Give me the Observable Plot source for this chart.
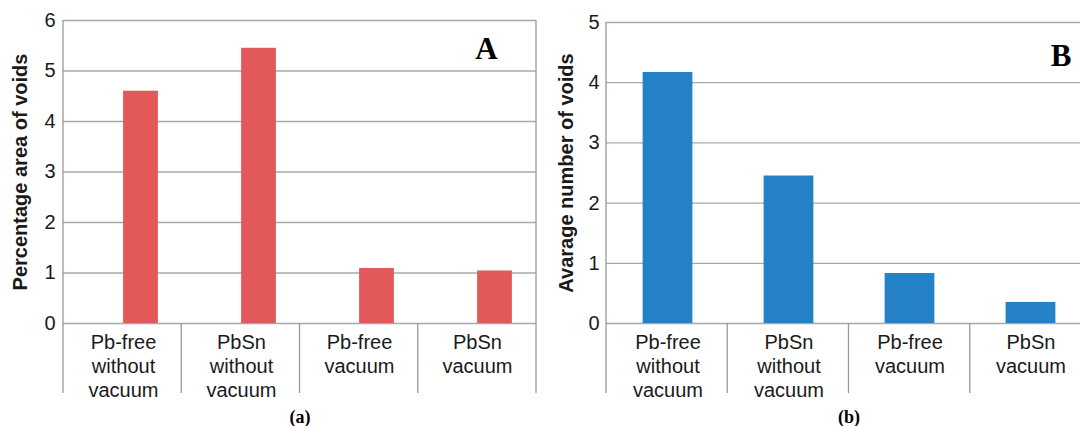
<!DOCTYPE html>
<html>
<head>
<meta charset="utf-8">
<script src="https://cdn.jsdelivr.net/npm/d3@7"></script>
<script src="https://cdn.jsdelivr.net/npm/@observablehq/plot@0.6"></script>
<style>
  html, body { margin: 0; padding: 0; background: #fff; }
  #fig { position: relative; width: 1080px; height: 426px; overflow: hidden; background: #fff; }
  #fig > svg { position: absolute; top: 0; }
</style>
</head>
<body>
<div id="fig"></div>
<script>
// Void measurements for four solder / process combinations
const categories = ["Pb-free without vacuum", "PbSn without vacuum", "Pb-free vacuum", "PbSn vacuum"];
const voidArea = [4.60, 5.45, 1.09, 1.04];   // percentage area of voids
const voidCount = [4.17, 2.45, 0.83, 0.35];  // average number of voids
const areaTicks = [0, 1, 2, 3, 4, 5, 6];
const countTicks = [0, 1, 2, 3, 4, 5];

const SANS = "'Liberation Sans', Arial, Helvetica, sans-serif";
const SERIF = "'Liberation Serif', 'Times New Roman', Times, serif";
const INK = "#1a1a1a";
const GRID = "#a8a8a8";
const EDGE = "#9a9a9a";

// Vertical separators between category cells, extending below the baseline
// so that each label sits in its own box; the outer two also frame the plot.
function cellLines(depth) {
  return (index, scales, values, dims) => {
    const {width, marginLeft, marginRight, marginTop} = dims;
    const y0 = scales.y(0);
    const n = categories.length;
    const step = (width - marginLeft - marginRight) / n;
    const g = d3.create("svg:g")
      .attr("stroke", EDGE)
      .attr("stroke-width", 1.3);
    for (let i = 0; i <= n; i++) {
      const x = marginLeft + i * step;
      const top = (i === 0 || i === n) ? marginTop : y0;
      g.append("line")
        .attr("x1", x).attr("x2", x)
        .attr("y1", top).attr("y2", y0 + depth);
    }
    return g.node();
  };
}

function panel({values, ticks, yLabel, letter, caption, fill, width, left,
                marginLeft, marginRight, marginTop, barWidth, barOffset,
                labelDx, letterDx, letterDy, tickPadding}) {
  const data = categories.map((c, i) => ({category: c, value: values[i]}));
  const step = (width - marginLeft - marginRight) / categories.length;
  const insetLeft = barOffset ? step / 2 : (step - barWidth) / 2;
  const insetRight = step - insetLeft - barWidth;
  const svg = Plot.plot({
    width,
    height: 426,
    marginLeft,
    marginRight,
    marginTop,
    marginBottom: 103,
    style: {fontFamily: SANS, color: INK, background: "transparent", overflow: "visible"},
    x: {type: "band", domain: categories, padding: 0, axis: null},
    y: {domain: [0, ticks[ticks.length - 1]], axis: null},
    marks: [
      Plot.gridY(ticks, {stroke: GRID, strokeOpacity: 1, strokeWidth: 1.3}),
      Plot.barY(data, {x: "category", y: "value", fill, insetLeft, insetRight}),
      Plot.axisY(ticks, {
        tickSize: 0, tickPadding, fontSize: 20, fill: INK, label: null,
        tickFormat: d => String(d)
      }),
      Plot.axisX(categories, {
        tickSize: 0, tickPadding: 8, fontSize: 20, lineHeight: 1.2, fill: INK, label: null,
        tickFormat: d => d.replace(/ /g, "\n")
      }),
      cellLines(70),
      Plot.text([yLabel], {
        text: d => d, frameAnchor: "left", dx: labelDx, rotate: -90,
        textAnchor: "middle", lineAnchor: "middle",
        fontSize: 20, fontWeight: "bold", fill: INK
      }),
      Plot.text([letter], {
        text: d => d, frameAnchor: "top-right", dx: letterDx, dy: letterDy,
        textAnchor: "middle", lineAnchor: "middle",
        fontFamily: SERIF, fontSize: 31, fontWeight: "bold", fill: "#000"
      }),
      Plot.text([caption], {
        text: d => d, frameAnchor: "bottom", dy: 94,
        textAnchor: "middle", lineAnchor: "middle",
        fontFamily: SERIF, fontSize: 18, fontWeight: "bold", fill: "#000"
      })
    ]
  });
  svg.style.left = left + "px";
  return svg;
}

const fig = document.getElementById("fig");

fig.append(panel({
  values: voidArea, ticks: areaTicks,
  yLabel: "Percentage area of voids", letter: "A", caption: "(a)",
  fill: "#e35858",
  width: 540, left: 0, marginLeft: 63, marginRight: 4, marginTop: 20,
  barWidth: 35, barOffset: true,
  labelDx: -42.5, letterDx: -50, letterDy: 28.5, tickPadding: 8
}));

fig.append(panel({
  values: voidCount, ticks: countTicks,
  yLabel: "Avarage number of voids", letter: "B", caption: "(b)",
  fill: "#2682c6",
  width: 552, left: 540, marginLeft: 66, marginRight: 1, marginTop: 22,
  barWidth: 50, barOffset: false,
  labelDx: -40, letterDx: -30.5, letterDy: 34, tickPadding: 7
}));
</script>
</body>
</html>
